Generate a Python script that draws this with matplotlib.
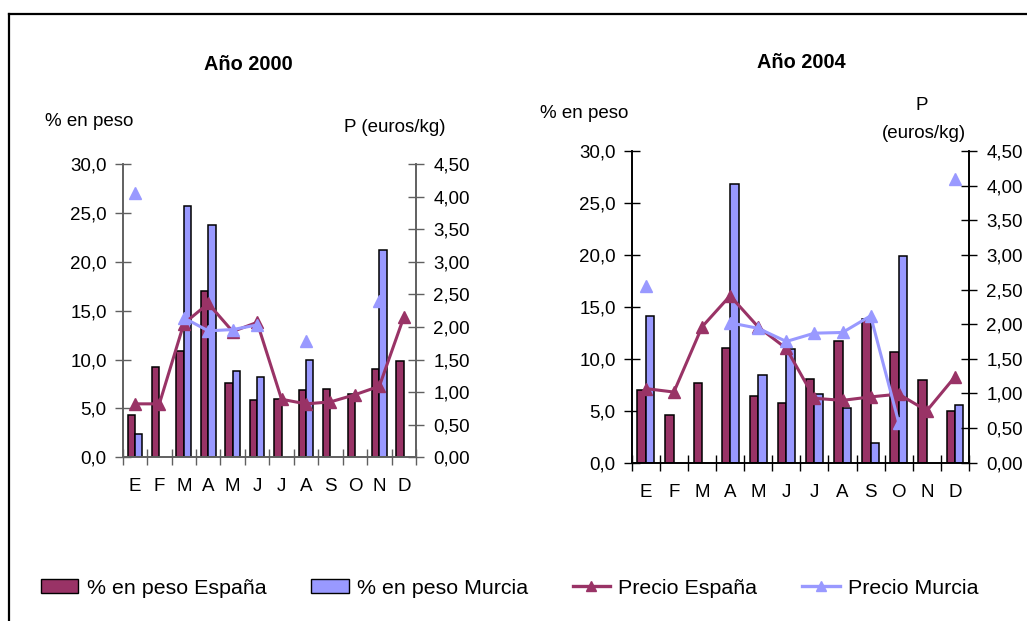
import numpy as np
import matplotlib
matplotlib.use("Agg")
import matplotlib.pyplot as plt
from matplotlib.lines import Line2D
from matplotlib.patches import Patch
from matplotlib.ticker import FuncFormatter, FixedLocator

plt.rcParams['font.family'] = ['Liberation Sans', 'DejaVu Sans']

months = ['E', 'F', 'M', 'A', 'M', 'J', 'J', 'A', 'S', 'O', 'N', 'D']
nan = np.nan

# Año 2000
peso_esp_2000 = [4.3, 9.25, 10.9, 17.0, 7.6, 5.85, 6.0, 6.9, 7.0, 6.45, 9.0, 9.85]
peso_mur_2000 = [2.35, nan, 25.7, 23.8, 8.8, 8.2, nan, 10.0, nan, nan, 21.2, nan]
precio_esp_2000 = [0.82, 0.82, 2.05, 2.36, 1.93, 2.07, 0.89, 0.82, 0.85, 0.96, 1.09, 2.15]
precio_mur_2000 = [4.06, nan, 2.14, 1.94, 1.96, 2.03, nan, 1.78, nan, nan, 2.40, nan]

# Año 2004
peso_esp_2004 = [7.0, 4.6, 7.7, 11.0, 6.4, 5.7, 8.1, 11.75, 13.85, 10.65, 7.95, 4.95]
peso_mur_2004 = [14.15, nan, nan, 26.8, 8.4, 10.9, 6.65, 5.3, 1.9, 19.9, nan, 5.55]
precio_esp_2004 = [1.07, 1.02, 1.96, 2.41, 1.96, 1.65, 0.93, 0.90, 0.95, 0.99, 0.75, 1.24]
precio_mur_2004 = [2.55, nan, nan, 2.02, 1.94, 1.75, 1.87, 1.88, 2.12, 0.58, nan, 4.10]

C_ESP = '#993366'
C_MUR = '#9999FF'

W, H = 1027, 621
fig = plt.figure(figsize=(W / 100, H / 100), dpi=100)

def fx(px):
    return px / W

def fy(py):
    return 1 - py / H

FS = 13.5

def make_chart(rect, pe, pm, ce, cm, spine_color):
    ax = fig.add_axes(rect)
    x = np.arange(len(months))
    w = 0.3
    ax.bar(x - w / 2, pe, w, color=C_ESP, edgecolor='black', linewidth=1.1, zorder=2)
    ax.bar(x + w / 2, pm, w, color=C_MUR, edgecolor='black', linewidth=1.1, zorder=2)
    ax.set_xlim(-0.5, len(months) - 0.5)
    ax.set_ylim(0, 30)
    ax.set_yticks(np.arange(0, 30.1, 5))
    ax.yaxis.set_major_formatter(FuncFormatter(lambda v, p: f"{v:.1f}".replace('.', ',')))
    ax.xaxis.set_major_locator(FixedLocator(np.arange(-0.5, len(months), 1)))
    ax.xaxis.set_minor_locator(FixedLocator(x))
    ax.set_xticklabels([], minor=False)
    ax.set_xticklabels(months, minor=True)
    ax.tick_params(axis='x', which='major', direction='inout', length=12, width=1, color=spine_color)
    ax.tick_params(axis='x', which='minor', length=0, pad=15, labelsize=FS)
    ax.tick_params(axis='y', direction='inout', length=12, width=1, color=spine_color, pad=5.5, labelsize=FS)
    ax.spines['top'].set_visible(False)
    for s in ['left', 'bottom', 'right']:
        ax.spines[s].set_color(spine_color)
        ax.spines[s].set_linewidth(1.2)
    ax.set_facecolor('none')

    ax2 = ax.twinx()
    ax2.plot(x, ce, color=C_ESP, lw=2.2, marker='^', markersize=8, zorder=3)
    ax2.plot(x, cm, color=C_MUR, lw=2.2, marker='^', markersize=8, zorder=3)
    ax2.set_ylim(0, 4.5)
    ax2.set_yticks(np.arange(0, 4.51, 0.5))
    ax2.yaxis.set_major_formatter(FuncFormatter(lambda v, p: f"{v:.2f}".replace('.', ',')))
    ax2.tick_params(axis='y', direction='inout', length=12, width=1, color=spine_color, pad=6.5, labelsize=FS)
    ax2.spines['top'].set_visible(False)
    for s in ['left', 'bottom', 'right']:
        ax2.spines[s].set_color(spine_color)
        ax2.spines[s].set_linewidth(1.2)
    return ax, ax2

# Left chart
rect1 = [fx(122.7), fy(457.3), fx(416) - fx(122.7), fy(164) - fy(457.3)]
make_chart(rect1, peso_esp_2000, peso_mur_2000, precio_esp_2000, precio_mur_2000, '#606060')

# Right chart
rect2 = [fx(631.7), fy(462.7), fx(969) - fx(631.7), fy(151) - fy(462.7)]
make_chart(rect2, peso_esp_2004, peso_mur_2004, precio_esp_2004, precio_mur_2004, 'black')

# Texts
fig.text(fx(248), fy(64.5), 'Año 2000', ha='center', va='center', fontsize=14.3, fontweight='bold')
fig.text(fx(45), fy(121), '% en peso', ha='left', va='center', fontsize=FS)
fig.text(fx(344), fy(128), 'P (euros/kg)', ha='left', va='center', fontsize=FS)

fig.text(fx(801), fy(63), 'Año 2004', ha='center', va='center', fontsize=14.3, fontweight='bold')
fig.text(fx(540), fy(114), '% en peso', ha='left', va='center', fontsize=FS)
fig.text(fx(922), fy(106), 'P', ha='center', va='center', fontsize=FS)
fig.text(fx(924), fy(134), '(euros/kg)', ha='center', va='center', fontsize=FS)

# Border (top and left lines)
fig.add_artist(Line2D([fx(8.5), fx(8.5)], [fy(14.3), 0], transform=fig.transFigure, color='black', lw=1.6))
fig.add_artist(Line2D([fx(8.5), 1], [fy(14.3), fy(14.3)], transform=fig.transFigure, color='black', lw=1.6))

# Legend
handles = [
    Patch(facecolor=C_ESP, edgecolor='black', linewidth=1.0),
    Patch(facecolor=C_MUR, edgecolor='black', linewidth=1.0),
    Line2D([], [], color=C_ESP, lw=2.4, marker='^', markersize=7),
    Line2D([], [], color=C_MUR, lw=2.4, marker='^', markersize=7),
]
labels = ['% en peso España', '% en peso Murcia', 'Precio España', 'Precio Murcia']
fig.legend(handles, labels, loc='center left', bbox_to_anchor=(fx(41), fy(588)),
           ncol=4, frameon=False, fontsize=15.4, handlelength=1.75, handletextpad=0.38,
           columnspacing=2.1, borderpad=0, borderaxespad=0, handleheight=0.65)

fig.savefig('out.png', dpi=100)
